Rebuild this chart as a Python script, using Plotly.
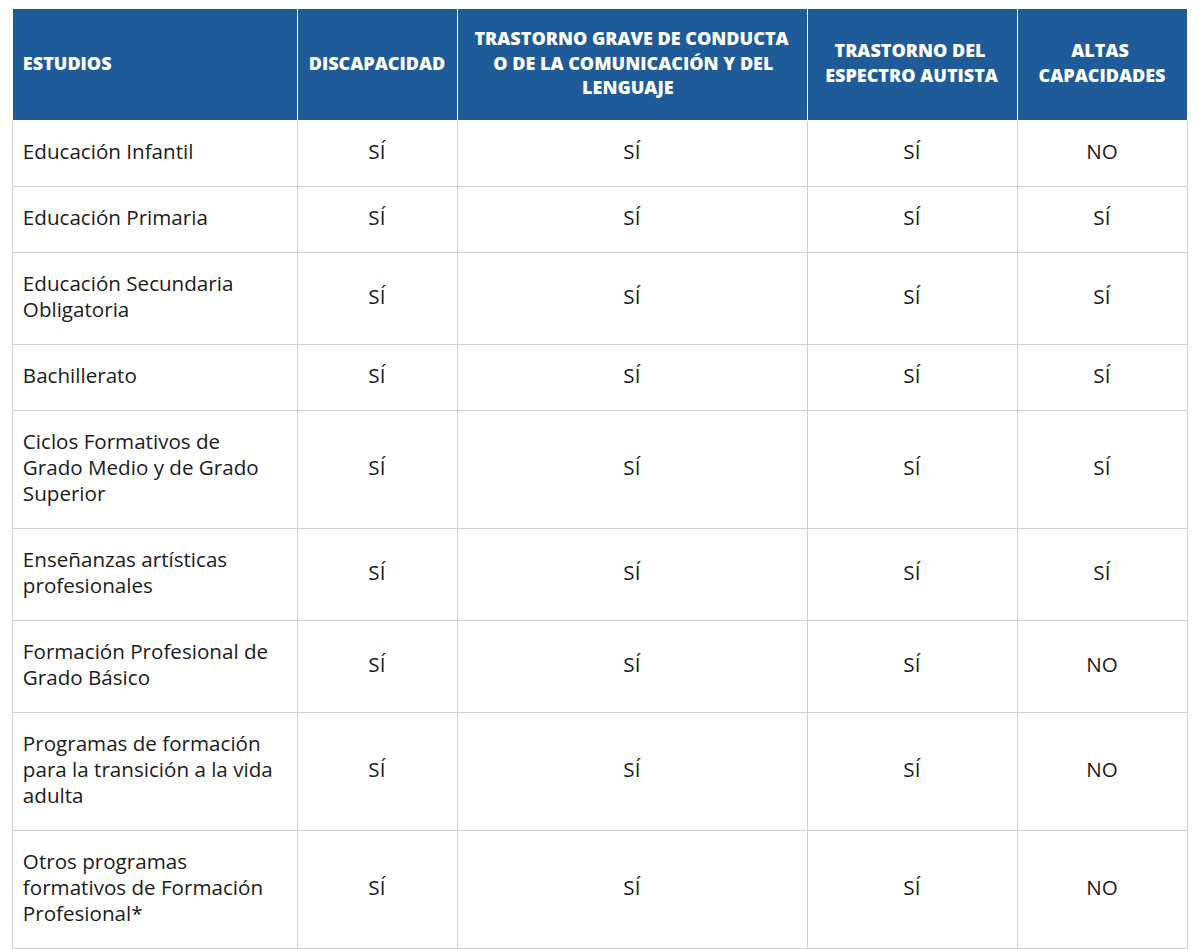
import plotly.graph_objects as go

# ---------------- data ----------------
headers = [
    ["ESTUDIOS"],
    ["DISCAPACIDAD"],
    ["TRASTORNO GRAVE DE CONDUCTA", "O DE LA COMUNICACIÓN Y DEL", "LENGUAJE"],
    ["TRASTORNO DEL", "ESPECTRO AUTISTA"],
    ["ALTAS", "CAPACIDADES"],
]

estudios = [
    ["Educación Infantil"],
    ["Educación Primaria"],
    ["Educación Secundaria", "Obligatoria"],
    ["Bachillerato"],
    ["Ciclos Formativos de", "Grado Medio y de Grado", "Superior"],
    ["Enseñanzas artísticas", "profesionales"],
    ["Formación Profesional de", "Grado Básico"],
    ["Programas de formación", "para la transición a la vida", "adulta"],
    ["Otros programas", "formativos de Formación", "Profesional*"],
]

discapacidad = ["SÍ", "SÍ", "SÍ", "SÍ", "SÍ", "SÍ", "SÍ", "SÍ", "SÍ"]
trastorno_grave = ["SÍ", "SÍ", "SÍ", "SÍ", "SÍ", "SÍ", "SÍ", "SÍ", "SÍ"]
espectro_autista = ["SÍ", "SÍ", "SÍ", "SÍ", "SÍ", "SÍ", "SÍ", "SÍ", "SÍ"]
altas_capacidades = ["NO", "SÍ", "SÍ", "SÍ", "SÍ", "SÍ", "NO", "NO", "NO"]

# ---------------- styling ----------------
HEADER_BLUE = "#1f5b99"
BODY_TEXT = "#1b1b1b"
GRID = "#d0d0d0"
NBSP = "\u00a0"
FONT = "Open Sans"

BODY_PX = 20.6
BODY_STEP_FONT = 10          # 1.3 * 10 = 13 px per slot (half a text line)
BODY_PAD_TOP, BODY_PAD_BOT = 17, 20

HEAD_PX = 18
HEAD_STEP_FONT = 9.42        # ~12.25 px per slot
HEAD_PAD_TOP, HEAD_PAD_BOT = 16, 22

INDENT_PX = 11               # extra left indent for left-aligned column

# approximate advance widths (em) of bold capitals, used to centre header lines
CAP_W = {"A": 0.69, "B": 0.66, "C": 0.63, "D": 0.71, "E": 0.56, "G": 0.70, "I": 0.33,
         "J": 0.33, "L": 0.55, "M": 0.86, "N": 0.76, "O": 0.76, "Ó": 0.76, "P": 0.63,
         "R": 0.65, "S": 0.56, "T": 0.58, "U": 0.74, "V": 0.64, "Y": 0.60, " ": 0.26}
NBSP_W = 0.26


def span(txt, px):
    return f'<span style="font-size:{px}px">{txt}</span>'


def block(lines, total, start, px, pad_top, pad_bot, indent=False):
    """Half-line slot layout: padding slot at 0 and at `total`, content every 2 slots."""
    slots = [""] * (total + 1)
    slots[0] = span(NBSP, pad_top)
    slots[total] = span(NBSP, pad_bot)
    lead = span(NBSP, INDENT_PX) if indent else ""
    for k, line in enumerate(lines):
        slots[start + 2 * k] = lead + span(line, px)
    return "<br>".join(slots)


def centre_lines(lines):
    widths = [sum(CAP_W.get(ch, 0.65) for ch in ln) for ln in lines]
    wmax = max(widths)
    return [NBSP * int(round((wmax - w) / 2 / NBSP_W)) + ln for ln, w in zip(lines, widths)]


max_head = max(len(h) for h in headers)
header_text = []
for i, h in enumerate(headers):
    lines = h if i == 0 else centre_lines(h)
    header_text.append(block(lines, 2 * max_head, 1 + (max_head - len(h)),
                             HEAD_PX, HEAD_PAD_TOP, HEAD_PAD_BOT, indent=(i == 0)))

value_cols = [discapacidad, trastorno_grave, espectro_autista, altas_capacidades]
col0 = [block(lines, 2 * len(lines), 1, BODY_PX, BODY_PAD_TOP, BODY_PAD_BOT, indent=True)
        for lines in estudios]
other_cols = [
    [block([v], 2 * len(lines), len(lines), BODY_PX, BODY_PAD_TOP, BODY_PAD_BOT)
     for v, lines in zip(col, estudios)]
    for col in value_cols
]

fig = go.Figure(
    go.Table(
        columnwidth=[285, 160, 350, 210, 170],
        header=dict(
            values=header_text,
            fill_color=HEADER_BLUE,
            line=dict(color="white", width=1),
            align=["left", "center", "center", "center", "center"],
            font=dict(family=FONT, size=HEAD_STEP_FONT, color="white", weight=800),
        ),
        cells=dict(
            values=[col0] + other_cols,
            fill_color="white",
            line=dict(color=GRID, width=1),
            align=["left", "center", "center", "center", "center"],
            font=dict(family=FONT, size=BODY_STEP_FONT, color=BODY_TEXT),
        ),
    )
)

fig.update_layout(
    width=1200,
    height=949,
    margin=dict(l=4, r=21, t=0, b=0),
    paper_bgcolor="white",
    plot_bgcolor="white",
)

fig.write_html("out.html")
